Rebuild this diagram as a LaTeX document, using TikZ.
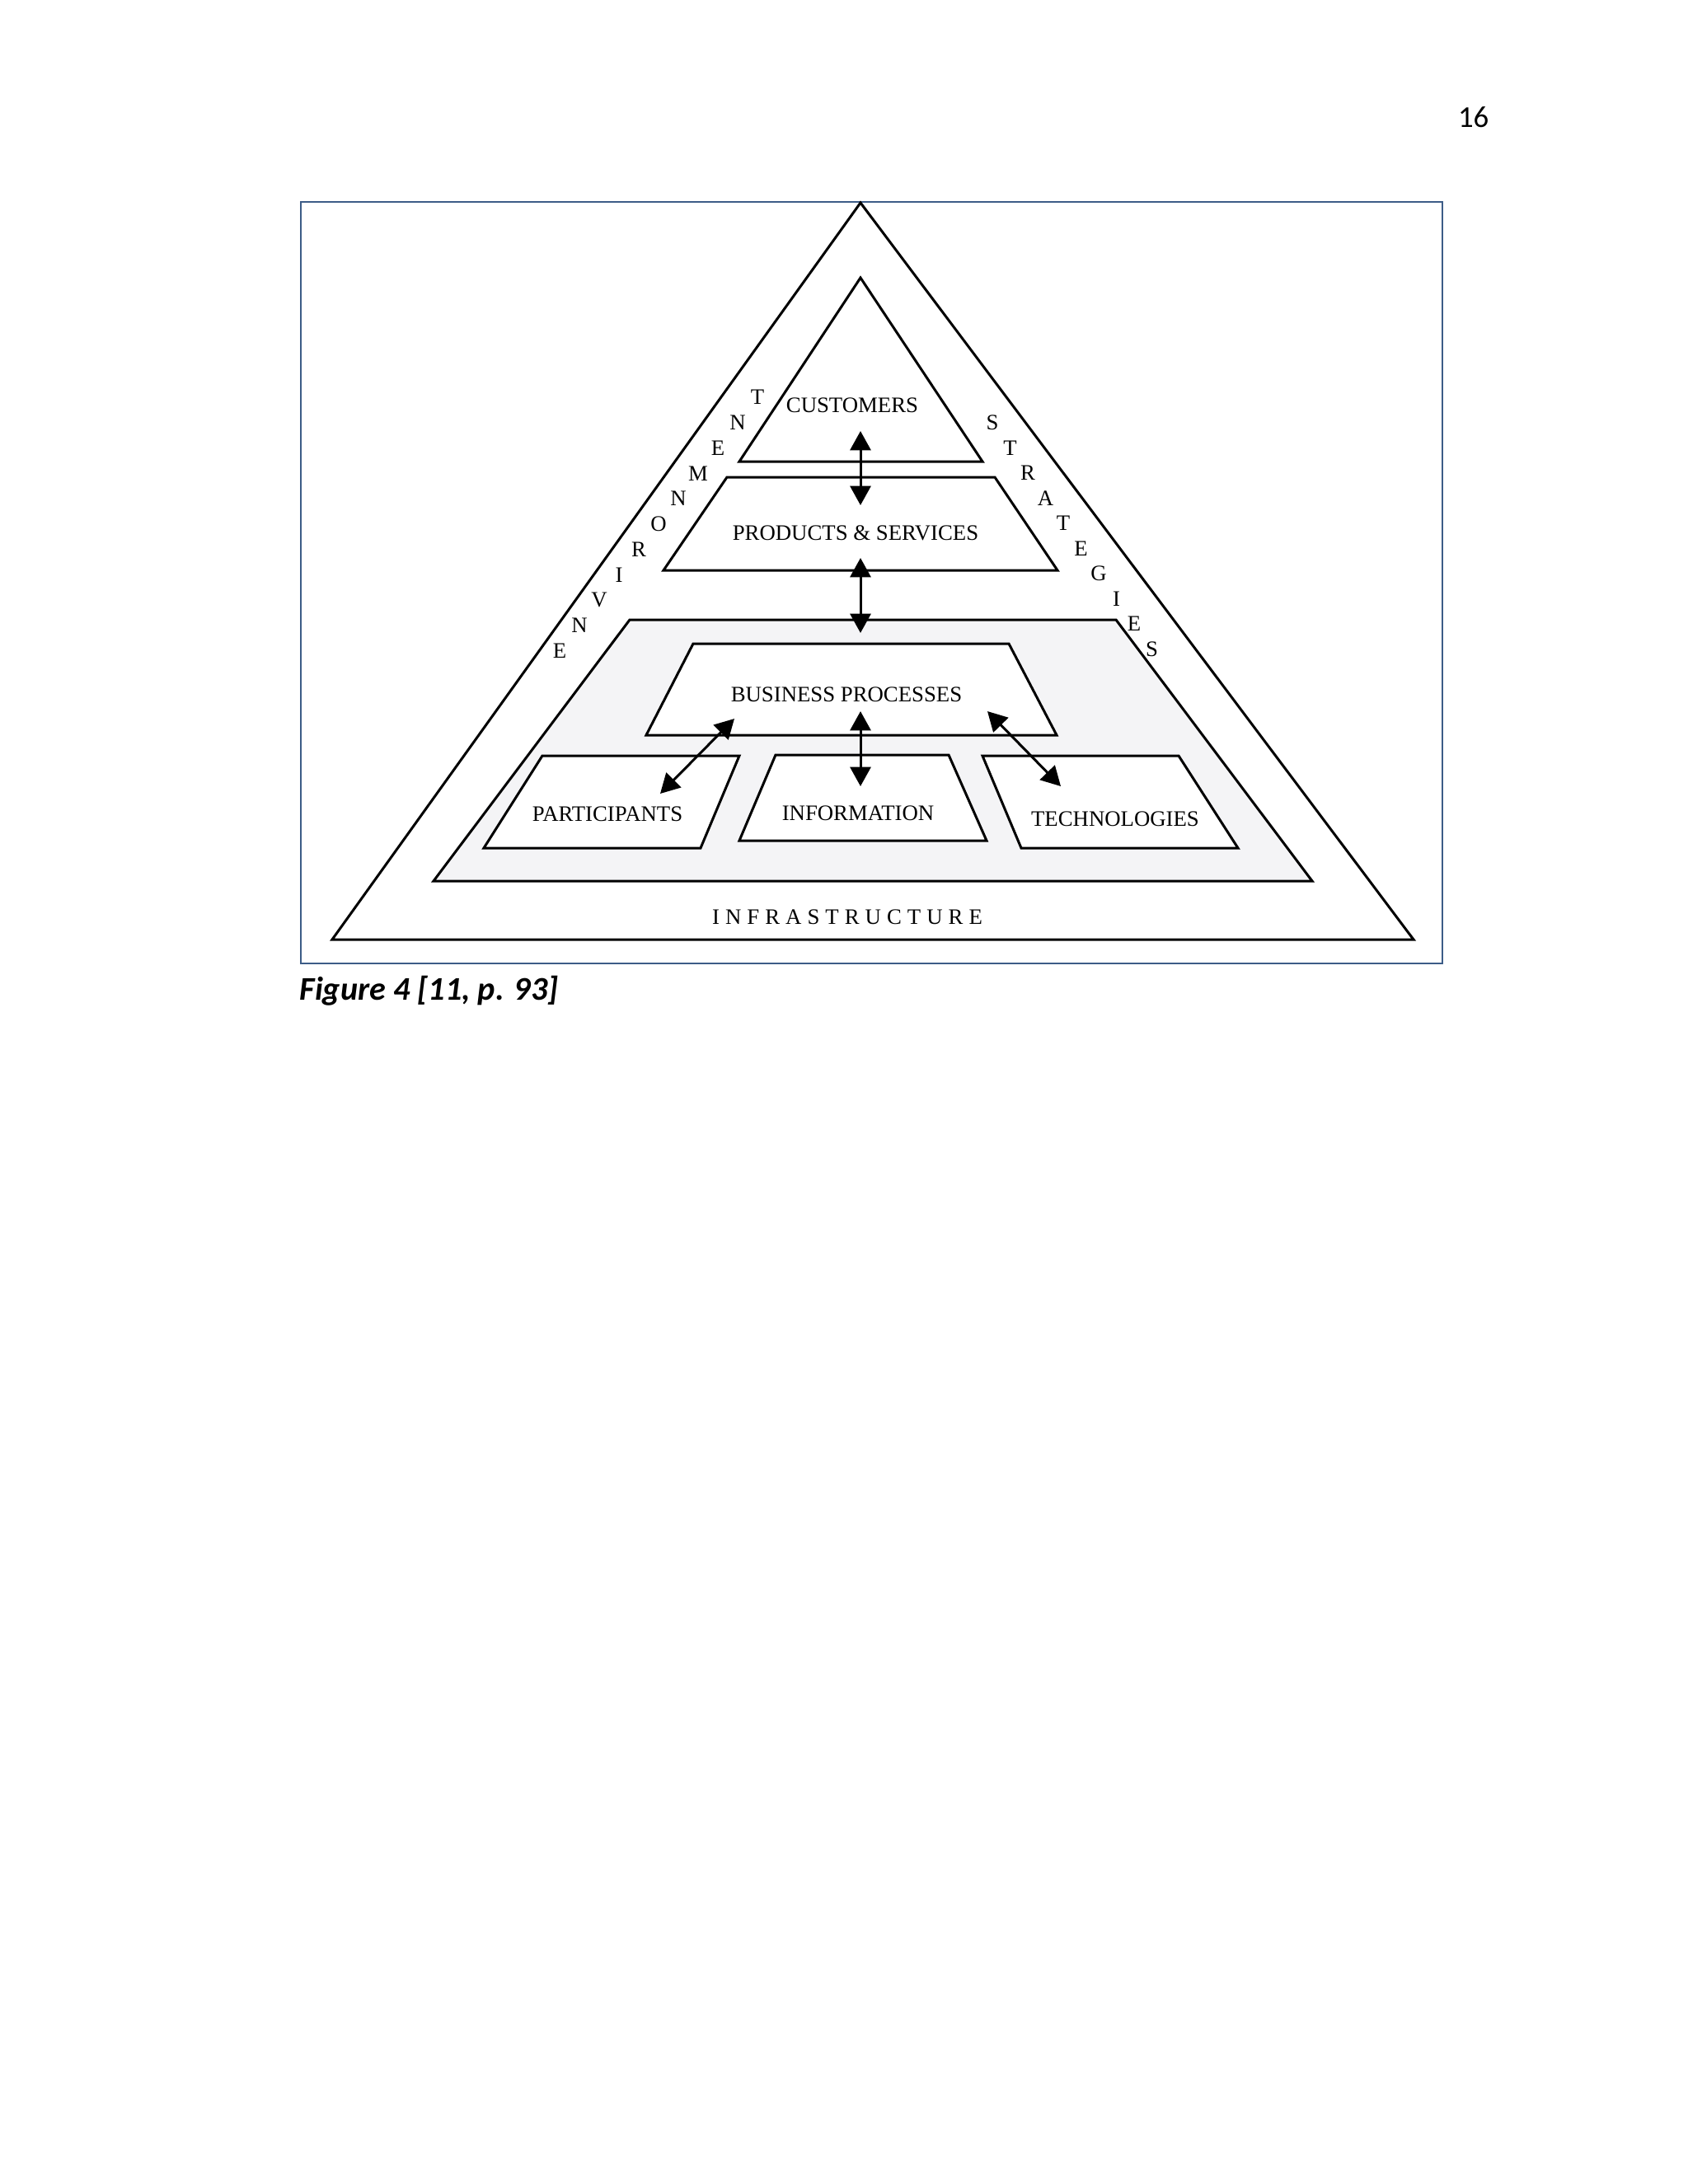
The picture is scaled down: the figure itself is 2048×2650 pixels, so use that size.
\documentclass[tikz,border=0pt]{standalone}
\usepackage{fontspec}
\setmainfont{Liberation Serif}
\newfontfamily\capfont{Carlito}
\usetikzlibrary{positioning,arrows.meta}
\definecolor{framec}{RGB}{60,92,135}
\definecolor{shade}{RGB}{244,244,246}
\newcommand{\lsp}{\kern2.1pt}

\begin{document}
\begin{tikzpicture}[x=0.298828pt, y=-0.298828pt
			,every node/.append style={inner sep=0pt, font=\fontsize{8}{9.6}\selectfont}
			,lbl/.style={anchor=base}
			,side/.style={anchor=center}
			,tier/.style={draw=black, line width=0.9pt, fill=white}
			,link/.style={line width=0.9pt, {Triangle[length=7pt,width=7.5pt]}-{Triangle[length=7pt,width=7.5pt]}}
		]
			\useasboundingbox (0,0) rectangle (2048,2650);
			\node[anchor=base east, font=\capfont\fontsize{11}{13.2}\selectfont] (page) at (1807,154) {16};
			\draw[framec, line width=0.7pt] (365,245) rectangle (1750,1169);
			% pyramid
			\draw[tier] (1044,246) -- (403,1140) -- (1715,1140) -- cycle;
			\draw[tier, fill=shade] (764,752) -- (1354,752) -- (1592,1069) -- (526,1069) -- cycle;
			\draw[tier] (1044,337) -- (1192,560) -- (897,560) -- cycle;
			\draw[tier] (882,579) -- (1207,579) -- (1283,692) -- (805,692) -- cycle;
			\draw[tier] (841,781) -- (1224,781) -- (1282,892) -- (784,892) -- cycle;
			\draw[tier] (658,917) -- (897,917) -- (850,1029) -- (587,1029) -- cycle;
			\draw[tier] (941,916) -- (1151,916) -- (1197,1020) -- (897,1020) -- cycle;
			\draw[tier] (1192,917) -- (1430,917) -- (1502,1029) -- (1239,1029) -- cycle;
			% labels
			\node[lbl] (cust) at (1034,500) {CUSTOMERS};
			\node[lbl] (prod) at (1038,655) {PRODUCTS \& SERVICES};
			\node[lbl] (bp) at (1027,851) {BUSINESS PROCESSES};
			\node[lbl] (part) at (737,996) {PARTICIPANTS};
			\node[lbl] (info) at (1041,995) {INFORMATION};
			\node[lbl] (tech) at (1353,1002) {TECHNOLOGIES};
			\node[lbl] (infra) at (1028,1121) {I\lsp N\lsp F\lsp R\lsp A\lsp S\lsp T\lsp R\lsp U\lsp C\lsp T\lsp U\lsp R\lsp E};
			\foreach \ch [count=\i from 0] in {E,N,V,I,R,O,N,M,E,N,T}
				\node[side] (env\i) at ({679+24*\i},{790-30.8*\i}) {\ch};
			\foreach \ch [count=\i from 0] in {S,T,R,A,T,E,G,I,E,S}
				\node[side] (str\i) at ({1204+21.5*\i},{513+30.5*\i}) {\ch};
			% links
			\coordinate (cust-s) at (1044,523);
			\coordinate (prod-n) at (1044,613);
			\coordinate (prod-s) at (1044,677);
			\coordinate (proc-n) at (1044,768);
			\coordinate (bp-s) at (1044,863);
			\coordinate (info-n) at (1044,954);
			\coordinate (bp-sw) at (891,872);
			\coordinate (part-n) at (801,963);
			\coordinate (bp-se) at (1198,863);
			\coordinate (tech-n) at (1287,954);
			\draw[link] (cust-s) -- (prod-n);
			\draw[link] (prod-s) -- (proc-n);
			\draw[link] (bp-s) -- (info-n);
			\draw[link] (bp-sw) -- (part-n);
			\draw[link] (bp-se) -- (tech-n);
			\node[anchor=base west, font=\capfont\bfseries\itshape\fontsize{12}{14.4}\selectfont] (cap) at (363,1213) {Figure 4 [11, p. 93]};
		\end{tikzpicture}
\end{document}
